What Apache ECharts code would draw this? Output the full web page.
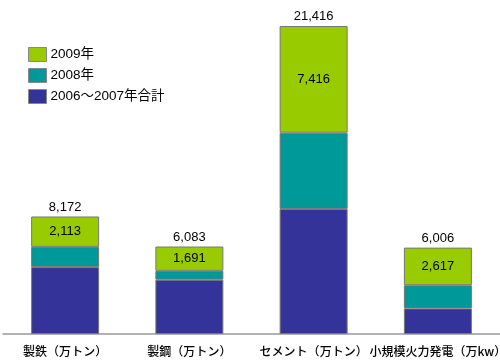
<!DOCTYPE html>
<html><head><meta charset="utf-8">
<script src="https://cdn.jsdelivr.net/npm/echarts@6/dist/echarts.min.js"></script>
<style>html,body{margin:0;padding:0;background:#fff}#c{width:500px;height:363px}</style>
</head><body><div id="c"></div>
<script>
const categories = ['製鉄（万トン）', '製鋼（万トン）', 'セメント（万トン）', '小規模火力発電（万kw）'];
const seriesNames = ['2006～2007年合計', '2008年', '2009年'];
const values2006_2007 = [4650, 3780, 8700, 1780];
const values2008 = [1409, 612, 5300, 1609];
const values2009 = [2113, 1691, 7416, 2617];
const totals = [8172, 6083, 21416, 6006];

const font = '"Liberation Sans", "Noto Sans CJK JP", sans-serif';
const cjk = '"Noto Sans CJK JP", sans-serif';
const fmt = v => v.toLocaleString('en-US');
const chart = echarts.init(document.getElementById('c'), null, {renderer: 'canvas'});
const border = {borderColor: '#777', borderWidth: 1};
chart.setOption({
  animation: false,
  grid: {left: 3, right: 0, top: 26, bottom: 29, outerBoundsMode: 'none', containLabel: false},
  legend: {
    data: ['2009年', '2008年', '2006～2007年合計'],
    orient: 'vertical', left: 28, top: 47, padding: 0, itemWidth: 18, itemHeight: 14, itemGap: 6,
    icon: 'rect',
    itemStyle: {borderColor: '#888', borderWidth: 1},
    textStyle: {fontFamily: font, fontSize: 13.5, color: '#000', padding: [0, 0, 0, -1]}
  },
  xAxis: {
    type: 'category', data: categories,
    axisLine: {lineStyle: {color: '#999', width: 1.5}},
    axisTick: {show: false},
    axisLabel: {fontFamily: cjk, fontSize: 12, fontWeight: 500, color: '#000', margin: 11, interval: 0}
  },
  yAxis: {type: 'value', min: 0, max: 21416, show: false, splitLine: {show: false}},
  series: [
    {name: seriesNames[0], type: 'bar', stack: 's', barWidth: 68, data: values2006_2007,
     itemStyle: Object.assign({color: '#333399'}, border)},
    {name: seriesNames[1], type: 'bar', stack: 's', data: values2008,
     itemStyle: Object.assign({color: '#009999'}, border)},
    {name: seriesNames[2], type: 'bar', stack: 's', data: values2009,
     itemStyle: Object.assign({color: '#99CC00'}, border),
     label: {show: true, position: 'inside', fontFamily: font, fontSize: 13, color: '#000',
       formatter: p => fmt(p.value)}},
    {name: 'total', type: 'bar', stack: 's', data: totals.map(() => 0),
     itemStyle: {color: 'transparent', borderWidth: 0},
     label: {show: true, position: 'top', distance: 3, fontFamily: font, fontSize: 13, color: '#000',
       formatter: p => fmt(totals[p.dataIndex])}}
  ]
});
</script></body></html>
